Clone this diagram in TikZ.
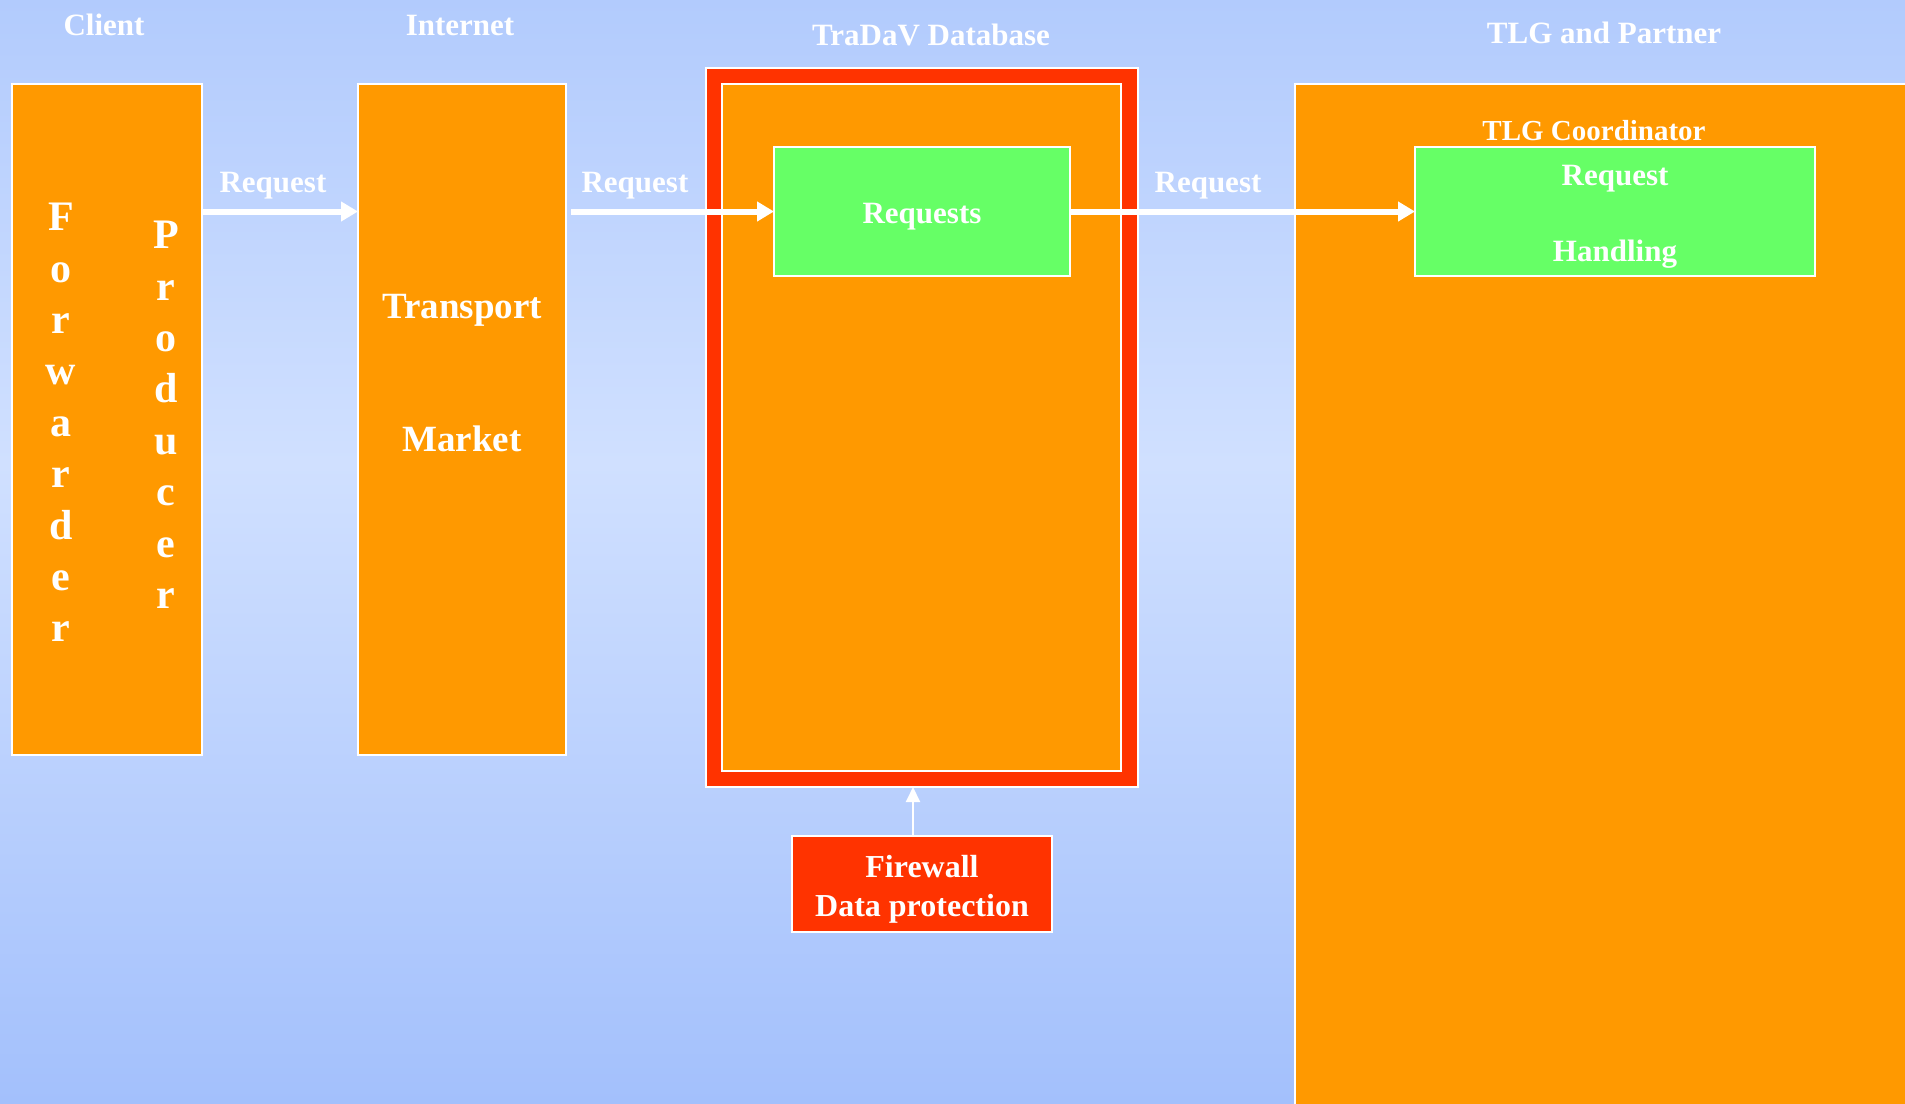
\documentclass[tikz,border=0pt]{standalone}
\usepackage{fontspec}
\setmainfont{Liberation Serif}
\usetikzlibrary{arrows.meta}
\usetikzlibrary{positioning}
\definecolor{bgtop}{RGB}{178,203,253}
\definecolor{bgmid}{RGB}{208,224,255}
\definecolor{bgbot}{RGB}{163,192,252}
\definecolor{boxorange}{RGB}{255,153,0}
\definecolor{boxgreen}{RGB}{102,255,102}
\definecolor{boxred}{RGB}{255,51,0}
\pgfdeclareverticalshading{skyshade}{100bp}{color(0bp)=(bgbot); color(25bp)=(bgbot); color(54bp)=(bgmid); color(75bp)=(bgtop); color(100bp)=(bgtop)}

\begin{document}
\begin{tikzpicture}[x=1pt, y=1pt,
  box/.style={draw=white, line width=2pt, fill=boxorange, inner sep=0pt, outer sep=0pt, anchor=north west},
  greenbox/.style={box, fill=boxgreen},
  txt/.style={text=white, font=\fontsize{31}{37}\selectfont\bfseries, inner sep=3pt},
  bigtxt/.style={txt, font=\fontsize{37}{44}\selectfont\bfseries},
  column/.style={txt, anchor=north, inner sep=0pt, align=center, font=\fontsize{42}{51.4}\selectfont\bfseries},
  flow/.style={draw=white, line width=6pt, -{Triangle[length=17pt,width=19pt]}},
  thinflow/.style={draw=white, line width=2pt, -{Triangle[length=15pt,width=14pt]}}]
  \useasboundingbox (0,0) rectangle (1905,-1103);
  \shade[shading=skyshade] (0,0) rectangle (1905,-1103);

  \node[box, minimum width=190pt, minimum height=671pt] (client) at (12,-84) {};
  \node[box, minimum width=208pt, minimum height=671pt] (internet) at (358,-84) {};
  \node[box, fill=boxred, minimum width=432pt, minimum height=719pt] (dbframe) at (706,-68) {};
  \node[box, minimum width=399pt, minimum height=687pt] (db) at (722,-84) {};
  \node[greenbox, txt, text height=30pt, minimum width=296pt, minimum height=129pt] (requests) at (774,-147) {Requests};
  \node[box, minimum width=640pt, minimum height=1040pt] (tlg) at (1295,-84) {};
  \node[greenbox, txt, align=center, text height=106pt, font=\fontsize{31}{76}\selectfont\bfseries, minimum width=400pt, minimum height=129pt] (handling) at (1415,-147) {Request\\Handling};
  \node[box, txt, fill=boxred, align=center, text height=71pt, font=\fontsize{32}{39}\selectfont\bfseries, minimum width=260pt, minimum height=96pt] (firewall) at (792,-836) {Firewall\\Data protection};

  \node[txt, anchor=base] (clienttitle) at (104,-35) {Client};
  \node[txt, anchor=base] (internettitle) at (460,-35) {Internet};
  \node[txt, anchor=base] (dbtitle) at (931,-45) {TraDaV Database};
  \node[txt, anchor=base] (tlgtitle) at (1604,-43) {TLG and Partner};
  \node[txt, anchor=base, font=\fontsize{29}{35}\selectfont\bfseries] (coordinator) at (1594,-140) {TLG Coordinator};

  \node[column] (forwarder) at (61,-203) {F\\o\\r\\w\\a\\r\\d\\e\\r};
  \node[column] (producer) at (166,-221) {P\\r\\o\\d\\u\\c\\e\\r};
  \node[bigtxt, anchor=base] (transport) at (462,-318) {Transport};
  \node[bigtxt, anchor=base] (market) at (462,-451) {Market};

  \draw[flow] (client.east |- requests.west) -- node[txt, above=6pt, pos=0.455] (req1) {Request} (internet.west |- requests.west);
  \draw[flow] ([xshift=5pt]internet.east |- requests.west) -- node[txt, above=6pt, pos=0.315] (req2) {Request} (requests.west);
  \draw[flow] (requests.east) -- node[txt, above=6pt, pos=0.4] (req3) {Request} (handling.west);
  \draw[thinflow] ([xshift=-9pt]firewall.north) -- ([xshift=-9pt]firewall.north |- dbframe.south);
\end{tikzpicture}
\end{document}
